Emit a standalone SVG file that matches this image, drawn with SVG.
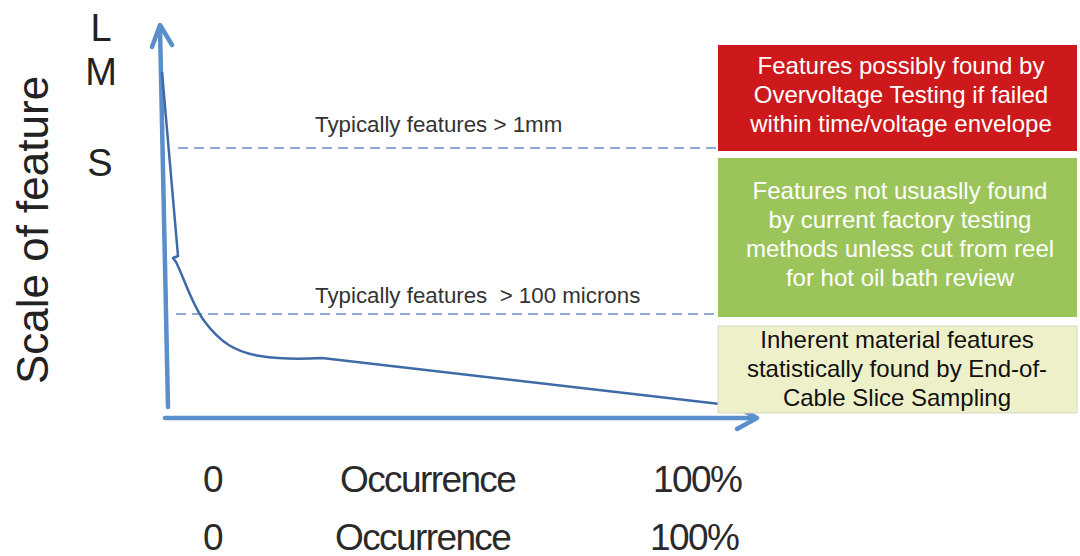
<svg xmlns="http://www.w3.org/2000/svg" width="1080" height="556" viewBox="0 0 1080 556">
<style>
.ax{fill:none;stroke:#5b8fcb;stroke-width:4.5;stroke-linecap:round;stroke-linejoin:round}
.dash{fill:none;stroke:#8eabd6;stroke-width:2;stroke-dasharray:10 6}
.curve{fill:none;stroke:#3e6aa6;stroke-width:2.5;stroke-linejoin:round}
.t{font-family:"Liberation Sans",Arial,Helvetica,sans-serif}
.big{font-size:37px;fill:#2a2a2a;letter-spacing:-1.6px}
.lms{font-size:38px;fill:#222;text-anchor:middle}
.note{font-size:22.3px;fill:#333333}
.box{font-size:24px;text-anchor:middle}
</style>
<rect width="1080" height="556" fill="#ffffff"/>
<g id="axes">
<line class="ax" x1="168" y1="407" x2="160" y2="28"/>
<polyline class="ax" points="152,47 160,25 172,45"/>
<line class="ax" x1="165" y1="418" x2="754" y2="418"/>
<polyline class="ax" points="737,407 757,418 737,429"/>
</g>
<g id="connectors">
<line class="dash" x1="178" y1="148" x2="718" y2="148"/>
<line class="dash" x1="176" y1="314" x2="768" y2="314"/>
<path class="curve" d="M162,72 L178,256 L173,258 L176,262 C185,280 192,305 205,322 C220,342 235,352 260,356 C285,360 305,359 322,358 L720,404"/>
</g>
<g id="axis-labels" class="t">
<text class="lms" x="101" y="41">L</text>
<text class="lms" x="101" y="85">M</text>
<text class="lms" x="100" y="176">S</text>
<text transform="translate(48,230) rotate(-90)" font-size="44" text-anchor="middle" fill="#222">Scale of feature</text>
<text class="note" x="315" y="132">Typically features &gt; 1mm</text>
<text class="note" x="315" y="303" xml:space="preserve">Typically features  &gt; 100 microns</text>
</g>
<g id="x-labels" class="t big">
<text x="203" y="492">0</text>
<text x="340" y="492">Occurrence</text>
<text x="653" y="492">100%</text>
<text x="203" y="550">0</text>
<text x="335" y="550">Occurrence</text>
<text x="650" y="550">100%</text>
</g>
<g id="box-red">
<rect x="718" y="45" width="359" height="106" fill="#cd181c"/>
<text class="t box" x="901" y="74" fill="#ffffff">Features possibly found by</text>
<text class="t box" x="901" y="103" fill="#ffffff">Overvoltage Testing if failed</text>
<text class="t box" x="901" y="132" fill="#ffffff">within time/voltage envelope</text>
</g>
<g id="box-green">
<rect x="718" y="158" width="359" height="159" fill="#9bc45b"/>
<text class="t box" x="900" y="199" fill="#ffffff">Features not usuaslly found</text>
<text class="t box" x="900" y="228" fill="#ffffff">by current factory testing</text>
<text class="t box" x="900" y="257" fill="#ffffff">methods unless cut from reel</text>
<text class="t box" x="900" y="286" fill="#ffffff">for hot oil bath review</text>
</g>
<g id="box-yellow">
<rect x="718" y="326" width="359" height="87" fill="#eef0c9" stroke="#d8d8c0" stroke-width="1"/>
<text class="t box" x="897" y="348" fill="#111111">Inherent material features</text>
<text class="t box" x="897" y="377" fill="#111111">statistically found by End-of-</text>
<text class="t box" x="897" y="406" fill="#111111">Cable Slice Sampling</text>
</g>
</svg>
